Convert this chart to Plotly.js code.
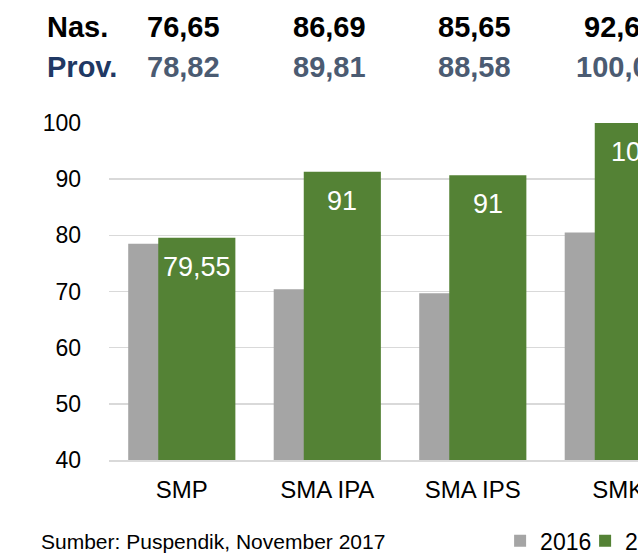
<!DOCTYPE html>
<html>
<head>
<meta charset="utf-8">
<script src="https://cdn.plot.ly/plotly-3.0.1.min.js"></script>
<style>
html, body { margin: 0; padding: 0; overflow: hidden; background: #fff; }
#chart { width: 720px; height: 553px; }
</style>
</head>
<body>
<div id="chart"></div>
<script>
// Data
const categories = ["SMP", "SMA IPA", "SMA IPS", "SMK"];
const values2016 = [78.5, 70.4, 69.7, 80.5];
const values2017 = [79.55, 91.3, 90.7, 100];
const labels2017 = ["79,55", "91", "91", "100"];
const nasValues = ["76,65", "86,69", "85,65", "92,61"];
const provValues = ["78,82", "89,81", "88,58", "100,00"];
const seriesNames = ["2016", "2017"];

const FONT = "Liberation Sans, Arial, sans-serif";
const GRAY = "#a5a5a5";
const GREEN = "#548235";

const traces = [
  {
    type: "bar", name: seriesNames[0], x: categories, y: values2016,
    marker: { color: GRAY }, width: 0.53, offset: -0.368,
    hoverinfo: "y"
  },
  {
    type: "bar", name: seriesNames[1], x: categories, y: values2017,
    marker: { color: GREEN }, width: 0.53, offset: -0.1615,
    hoverinfo: "y"
  }
];

const annotations = [];
categories.forEach((c, i) => {
  annotations.push({
    x: c, y: values2017[i], xref: "x", yref: "y",
    text: labels2017[i], showarrow: false,
    xshift: 15, yshift: -29, yanchor: "middle",
    font: { family: FONT, size: 27, color: "#ffffff" }
  });
  annotations.push({
    x: c, y: 1, xref: "x", yref: "paper",
    text: "<b>" + nasValues[i] + "</b>", showarrow: false,
    xshift: 2, yshift: 96, yanchor: "middle",
    font: { family: FONT, size: 29, color: "#000000" }
  });
  annotations.push({
    x: c, y: 1, xref: "x", yref: "paper",
    text: "<b>" + provValues[i] + "</b>", showarrow: false,
    xshift: 2, yshift: 56, yanchor: "middle",
    font: { family: FONT, size: 29, color: "#4b5b72" }
  });
});
annotations.push({
  x: 0, y: 1, xref: "paper", yref: "paper", xanchor: "left", yanchor: "middle",
  xshift: -64, yshift: 96, showarrow: false, text: "<b>Nas.</b>",
  font: { family: FONT, size: 29, color: "#000000" }
});
annotations.push({
  x: 0, y: 1, xref: "paper", yref: "paper", xanchor: "left", yanchor: "middle",
  xshift: -64, yshift: 56, showarrow: false, text: "<b>Prov.</b>",
  font: { family: FONT, size: 29, color: "#203864" }
});
annotations.push({
  x: 0, y: 0, xref: "paper", yref: "paper", xanchor: "left", yanchor: "middle",
  xshift: -70, yshift: -81, showarrow: false, text: "Sumber: Puspendik, November 2017",
  font: { family: FONT, size: 21, color: "#000000" }
});

const layout = {
  width: 720, height: 553,
  margin: { l: 109, r: 29, t: 123, b: 93, autoexpand: false },
  paper_bgcolor: "#ffffff", plot_bgcolor: "#ffffff",
  font: { family: FONT, size: 22, color: "#000000" },
  barmode: "overlay",
  showlegend: true,
  legend: {
    orientation: "h", x: 0.672, y: -0.240, xanchor: "left", yanchor: "middle",
    entrywidth: 40, entrywidthmode: "pixels",
    font: { family: FONT, size: 23, color: "#000000" },
    bgcolor: "rgba(0,0,0,0)"
  },
  xaxis: {
    type: "category", range: [-0.5, 3.5],
    showgrid: false, showline: true, linecolor: "#d9d9d9", linewidth: 1.5,
    ticks: "", tickfont: { family: FONT, size: 24, color: "#000000" },
    ticklabelstandoff: 8, fixedrange: true
  },
  yaxis: {
    range: [40, 100], dtick: 10, tick0: 40,
    showgrid: true, gridcolor: "#d9d9d9", gridwidth: 1.5,
    zeroline: false, showline: false, ticks: "",
    tickfont: { family: FONT, size: 23, color: "#000000" },
    ticklabelstandoff: 27, fixedrange: true
  },
  annotations: annotations
};

Plotly.newPlot("chart", traces, layout, { displayModeBar: false, staticPlot: true });
</script>
</body>
</html>
